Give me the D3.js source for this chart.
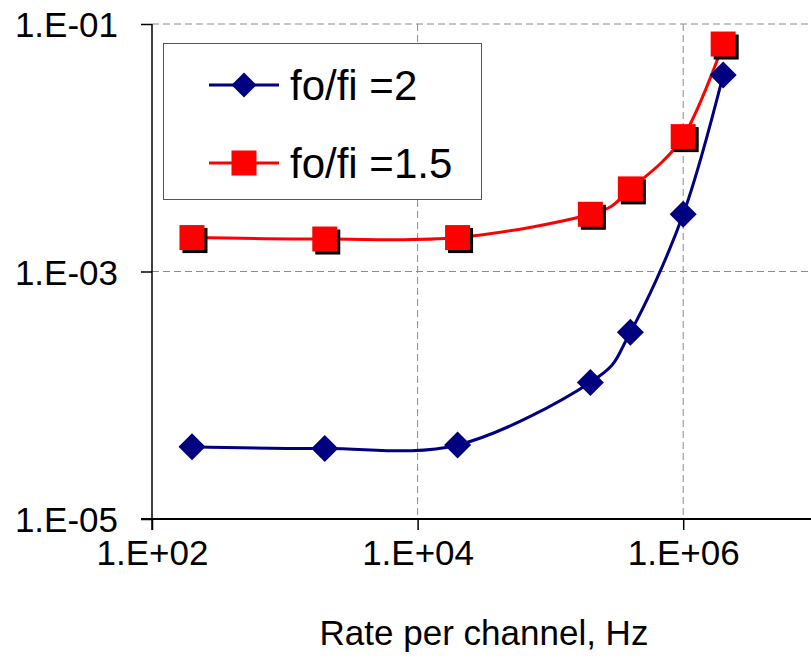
<!DOCTYPE html>
<html>
<head>
<meta charset="utf-8">
<script src="https://cdn.jsdelivr.net/npm/d3@7"></script>
<style>
  body { margin: 0; background: #fff; }
  text { font-family: "Liberation Sans", Arial, sans-serif; fill: #000; }
</style>
</head>
<body>
<svg></svg>
<script>
// data
var rates = [200, 2000, 20000, 200000, 400000, 1000000, 2000000];
var ratio2 = [3.84e-5, 3.72e-5, 3.96e-5, 1.27e-4, 3.23e-4, 2.9e-3, 3.87e-2];
var ratio15 = [1.88e-3, 1.83e-3, 1.88e-3, 2.9e-3, 4.65e-3, 1.23e-2, 6.89e-2];
var seriesNames = ["fo/fi =2", "fo/fi =1.5"];

var xTicks = [1e2, 1e4, 1e6];
var xTickLabels = ["1.E+02", "1.E+04", "1.E+06"];
var yTicks = [1e-1, 1e-3, 1e-5];
var yTickLabels = ["1.E-01", "1.E-03", "1.E-05"];

var width = 811, height = 659;
var plot = {left: 152, right: 816, top: 24, bottom: 519};

var svg = d3.select("svg")
    .attr("width", width)
    .attr("height", height);

var x = d3.scaleLog().domain([1e2, 1e7]).range([plot.left, plot.right]);
var y = d3.scaleLog().domain([1e-5, 1e-1]).range([plot.bottom, plot.top]);

// gridlines
var grid = svg.append("g")
    .attr("stroke", "#8c8c8c")
    .attr("stroke-width", 1)
    .attr("stroke-dasharray", "7,4");
grid.selectAll(".hg")
    .data(yTicks.slice(0, 2))
    .enter().append("line")
    .attr("x1", plot.left).attr("x2", plot.right)
    .attr("y1", function(d) { return y(d); })
    .attr("y2", function(d) { return y(d); });
grid.selectAll(".vg")
    .data(xTicks.slice(1))
    .enter().append("line")
    .attr("y1", plot.top).attr("y2", plot.bottom)
    .attr("x1", function(d) { return x(d); })
    .attr("x2", function(d) { return x(d); });

// axes
var xAxis = d3.axisBottom(x)
    .tickValues(xTicks)
    .tickSize(11)
    .tickFormat(function(d, i) { return xTickLabels[i]; });
var gx = svg.append("g")
    .attr("transform", "translate(0," + plot.bottom + ")")
    .call(xAxis);
gx.select(".domain").attr("d", "M" + (plot.left - 11) + ",0H" + plot.right).attr("stroke-width", 2);
gx.selectAll(".tick line").attr("stroke-width", 1.5);
gx.selectAll(".tick text")
    .attr("y", 46)
    .attr("dy", 0)
    .style("font-size", "35px")
    .style("font-family", "'Liberation Sans', Arial, sans-serif");

var yAxis = d3.axisLeft(y)
    .tickValues(yTicks)
    .tickSize(11)
    .tickFormat(function(d, i) { return yTickLabels[i]; });
var gy = svg.append("g")
    .attr("transform", "translate(" + plot.left + ",0)")
    .call(yAxis);
gy.select(".domain").attr("d", "M0," + plot.top + "V" + (plot.bottom + 11)).attr("stroke-width", 1.5);
gy.selectAll(".tick line").attr("stroke-width", 1.5);
gy.selectAll(".tick text")
    .attr("x", -34)
    .attr("dy", "0.36em")
    .style("font-size", "35px")
    .style("font-family", "'Liberation Sans', Arial, sans-serif");

// axis title
svg.append("text")
    .attr("x", (plot.left + plot.right) / 2)
    .attr("y", 645)
    .attr("text-anchor", "middle")
    .style("font-size", "35px")
    .text("Rate per channel, Hz");

// lines
var line = d3.line()
    .x(function(d) { return x(d[0]); })
    .y(function(d) { return y(d[1]); })
    .curve(d3.curveCatmullRom.alpha(0));

var blueData = d3.zip(rates, ratio2);
var redData = d3.zip(rates, ratio15);

svg.append("path")
    .datum(redData)
    .attr("fill", "none")
    .attr("stroke", "#ff0000")
    .attr("stroke-width", 3)
    .attr("d", line);

svg.append("path")
    .datum(blueData)
    .attr("fill", "none")
    .attr("stroke", "#000080")
    .attr("stroke-width", 3)
    .attr("d", line);

// markers
var sq = 25, dia = 13.5;
function diamond(cx, cy, r) {
  return "M" + cx + "," + (cy - r) + "L" + (cx + r) + "," + cy + "L" + cx + "," + (cy + r) + "L" + (cx - r) + "," + cy + "Z";
}

svg.append("g").selectAll("rect")
    .data(redData)
    .enter().append("rect")
    .attr("x", function(d) { return x(d[0]) - sq / 2 + 3; })
    .attr("y", function(d) { return y(d[1]) - sq / 2 + 3; })
    .attr("width", sq).attr("height", sq)
    .attr("fill", "#000");
svg.append("g").selectAll("rect")
    .data(redData)
    .enter().append("rect")
    .attr("x", function(d) { return x(d[0]) - sq / 2; })
    .attr("y", function(d) { return y(d[1]) - sq / 2; })
    .attr("width", sq).attr("height", sq)
    .attr("fill", "#ff0000");

svg.append("g").selectAll("path")
    .data(blueData)
    .enter().append("path")
    .attr("d", function(d) { return diamond(x(d[0]), y(d[1]), dia); })
    .attr("fill", "#000080");

// legend
var legend = svg.append("g");
legend.append("rect")
    .attr("x", 163.5).attr("y", 43.5)
    .attr("width", 318).attr("height", 156)
    .attr("fill", "#fff")
    .attr("stroke", "#555")
    .attr("stroke-width", 1);

var legendRows = [
  {name: seriesNames[0], color: "#000080", shape: "diamond", y: 85},
  {name: seriesNames[1], color: "#ff0000", shape: "square", y: 163}
];
legendRows.forEach(function(r) {
  legend.append("line")
      .attr("x1", 209).attr("x2", 279)
      .attr("y1", r.y).attr("y2", r.y)
      .attr("stroke", r.color)
      .attr("stroke-width", 3);
  if (r.shape == "diamond") {
    legend.append("path")
        .attr("d", diamond(244, r.y, 12.5))
        .attr("fill", r.color);
  } else {
    legend.append("rect")
        .attr("x", 244 - 12.5).attr("y", r.y - 12.5)
        .attr("width", 25).attr("height", 25)
        .attr("fill", r.color);
  }
  legend.append("text")
      .attr("x", 290)
      .attr("y", r.y)
      .attr("dy", "0.36em")
      .style("font-size", "42px")
      .text(r.name);
});
</script>
</body>
</html>
